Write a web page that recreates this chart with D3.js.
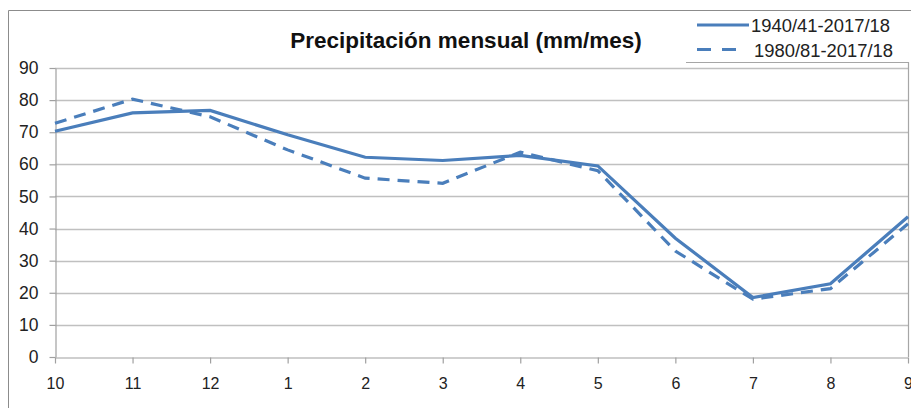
<!DOCTYPE html>
<html>
<head>
<meta charset="utf-8">
<script src="https://cdn.jsdelivr.net/npm/d3@7"></script>
<style>
  body { margin: 0; background: #fff; }
  svg { display: block; font-family: "Liberation Sans", Arial, sans-serif; }
</style>
</head>
<body>
<div id="chart"></div>
<script>
// data
var months = ["10", "11", "12", "1", "2", "3", "4", "5", "6", "7", "8", "9"];
var serie1 = [70.3, 76.0, 76.8, 69.2, 62.2, 61.2, 62.8, 59.5, 37.0, 18.5, 22.8, 43.7];
var serie2 = [72.8, 80.3, 74.8, 64.5, 55.7, 54.1, 63.8, 58.0, 33.0, 18.0, 21.3, 41.5];
var seriesNames = ["1940/41-2017/18", "1980/81-2017/18"];
var yTicks = [0, 10, 20, 30, 40, 50, 60, 70, 80, 90];

var w = 911, h = 408;
var blue = "#4a7ebb";

var svg = d3.select("#chart")
            .append("svg")
            .attr("width", w)
            .attr("height", h);

// outer frame (only top and left visible)
svg.append("path")
   .attr("d", "M8.5," + h + "V10.5H" + w)
   .attr("fill", "none")
   .attr("stroke", "#8c8c8c")
   .attr("stroke-width", 1);

// scales
var xScale = d3.scalePoint()
               .domain(months)
               .range([55, 908]);

var yScale = d3.scaleLinear()
               .domain([0, 90])
               .range([357, 68]);

// gridlines
svg.append("g")
   .selectAll("line")
   .data(yTicks.slice(1))
   .enter()
   .append("line")
   .attr("x1", 55)
   .attr("x2", 908)
   .attr("y1", (d) => Math.round(yScale(d)) + 0.5)
   .attr("y2", (d) => Math.round(yScale(d)) + 0.5)
   .attr("stroke", "#c0c0c0")
   .attr("stroke-width", 1.3);

// plot / legend border on the right
svg.append("path")
   .attr("d", "M686,62.5H908.5V357")
   .attr("fill", "none")
   .attr("stroke", "#a6a6a6")
   .attr("stroke-width", 1.2);

// axes
var xAxis = d3.axisBottom(xScale)
              .tickSizeInner(6)
              .tickSizeOuter(0)
              .tickPadding(14);

var gx = svg.append("g")
   .attr("transform", "translate(0," + 357.5 + ")")
   .call(xAxis);

var yAxis = d3.axisLeft(yScale)
              .tickValues(yTicks)
              .tickSizeInner(6)
              .tickSizeOuter(0)
              .tickPadding(11);

var gy = svg.append("g")
   .attr("transform", "translate(55.5,0)")
   .call(yAxis);

[gx, gy].forEach(function(g){
  g.selectAll(".domain").attr("stroke", "#a0a0a0").attr("stroke-width", 1.2);
  g.selectAll(".tick line").attr("stroke", "#a0a0a0").attr("stroke-width", 1.2);
  g.selectAll(".tick text")
   .attr("fill", "#222")
   .style("font-family", "'Liberation Sans', Arial, sans-serif");
});
gx.selectAll(".tick text").style("font-size", "16px");
gy.selectAll(".tick text").style("font-size", "17.5px");

// lines
var line = d3.line()
             .x((d, i) => xScale(months[i]))
             .y((d) => yScale(d));

svg.append("path")
   .datum(serie2)
   .attr("d", line)
   .attr("fill", "none")
   .attr("stroke", blue)
   .attr("stroke-width", 3.2)
   .attr("stroke-dasharray", "12,8");

svg.append("path")
   .datum(serie1)
   .attr("d", line)
   .attr("fill", "none")
   .attr("stroke", blue)
   .attr("stroke-width", 3.2);

// title
svg.append("text")
   .attr("x", 466)
   .attr("y", 48)
   .attr("text-anchor", "middle")
   .style("font-size", "22.5px")
   .style("font-weight", "bold")
   .attr("fill", "#111")
   .text("Precipitación mensual (mm/mes)");

// legend
var legend = svg.append("g");

legend.append("line")
      .attr("x1", 697).attr("x2", 749)
      .attr("y1", 25).attr("y2", 25)
      .attr("stroke", blue)
      .attr("stroke-width", 3.2);

legend.append("line")
      .attr("x1", 697).attr("x2", 737)
      .attr("y1", 49.5).attr("y2", 49.5)
      .attr("stroke", blue)
      .attr("stroke-width", 3.2)
      .attr("stroke-dasharray", "14,11");

legend.selectAll("text")
      .data(seriesNames)
      .enter()
      .append("text")
      .attr("x", (d, i) => i == 0 ? 751 : 754)
      .attr("y", (d, i) => i == 0 ? 31.5 : 56.5)
      .attr("fill", "#222")
      .attr("textLength", 139)
      .attr("lengthAdjust", "spacingAndGlyphs")
      .style("font-size", "18px")
      .text((d) => d);
</script>
</body>
</html>
